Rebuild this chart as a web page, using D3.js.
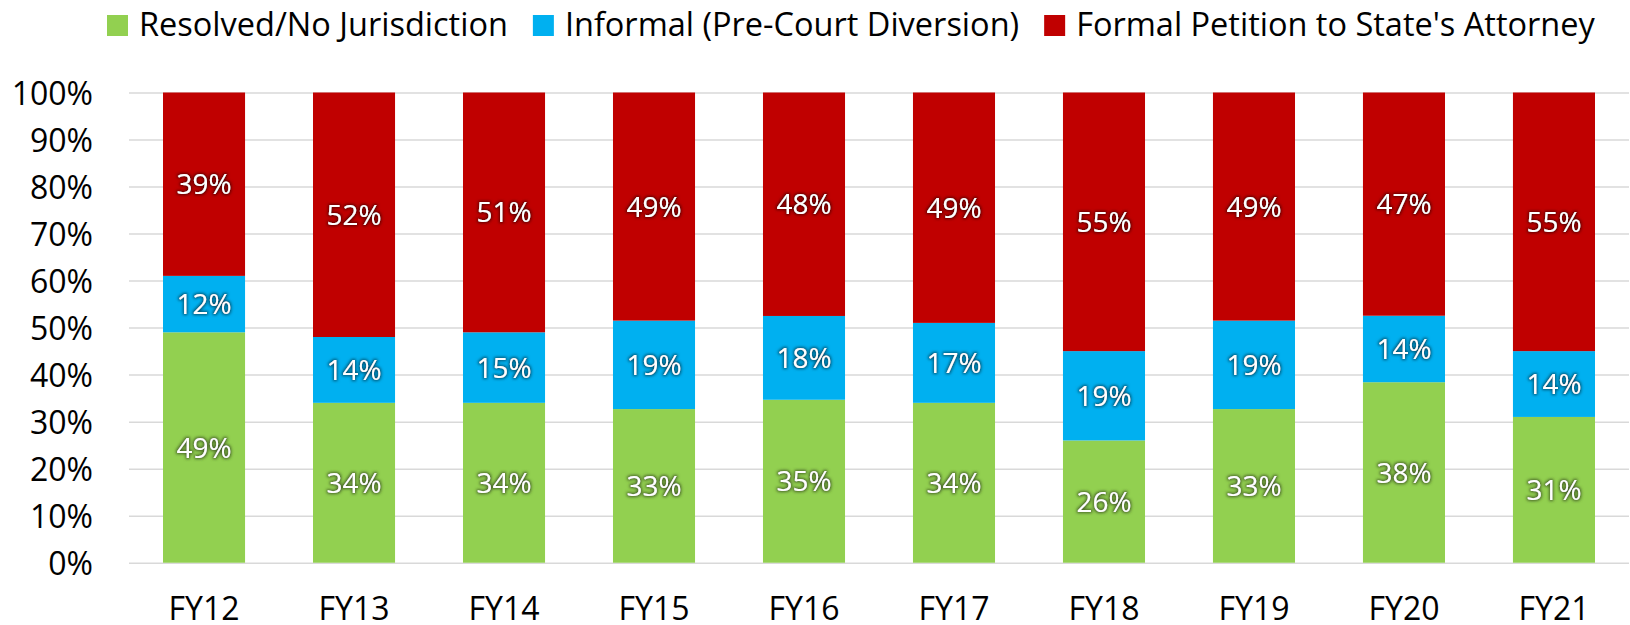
<!DOCTYPE html>
<html>
<head>
<meta charset="utf-8">
<script src="https://cdn.jsdelivr.net/npm/d3@7"></script>
<style>
  body { margin: 0; background: #fff; }
  text { font-family: "Open Sans", Lato, sans-serif; }
</style>
</head>
<body>
<svg id="chart" width="1630" height="625"></svg>
<script>
// values (percent of cases per fiscal year)
var years = ['FY12', 'FY13', 'FY14', 'FY15', 'FY16', 'FY17', 'FY18', 'FY19', 'FY20', 'FY21'];
var resolved = [49, 34, 34, 33, 35, 34, 26, 33, 38, 31];
var informal = [12, 14, 15, 19, 18, 17, 19, 19, 14, 14];
var formal = [39, 52, 51, 49, 48, 49, 55, 49, 47, 55];

var seriesKeys = ['resolved', 'informal', 'formal'];
var seriesNames = ['Resolved/No Jurisdiction', 'Informal (Pre-Court Diversion)', 'Formal Petition to State\'s Attorney'];
var seriesColors = ['#92d050', '#00b0f0', '#c00000'];
var yTickValues = [0, 0.1, 0.2, 0.3, 0.4, 0.5, 0.6, 0.7, 0.8, 0.9, 1];

var svg = d3.select('#chart');
var plotLeft = 129;
var plotRight = 1629;
var plotTop = 92.5;
var plotBottom = 562.7;

var rows = years.map(function(yr, i) {
    return {year: yr, resolved: resolved[i], informal: informal[i], formal: formal[i]};
});

var stacked = d3.stack()
    .keys(seriesKeys)
    .offset(d3.stackOffsetExpand)(rows);

var x = d3.scaleBand()
    .domain(years)
    .range([plotLeft, plotRight])
    .paddingInner(0.453)
    .paddingOuter(0.2267);

var y = d3.scaleLinear()
    .domain([0, 1])
    .range([plotBottom, plotTop]);

// glow behind the white data labels, one per series
var defs = svg.append('defs');
seriesColors.forEach(function(c, i) {
    var f = defs.append('filter')
        .attr('id', 'glow' + i)
        .attr('x', '-20%').attr('y', '-30%')
        .attr('width', '140%').attr('height', '160%');
    f.append('feMorphology').attr('in', 'SourceAlpha')
        .attr('operator', 'dilate').attr('radius', 1.2).attr('result', 'd');
    f.append('feGaussianBlur').attr('in', 'd')
        .attr('stdDeviation', 1.5).attr('result', 'b');
    f.append('feFlood').attr('flood-color', d3.color(c).darker(2).formatHex())
        .attr('flood-opacity', 1);
    f.append('feComposite').attr('in2', 'b').attr('operator', 'in').attr('result', 'g');
    var m = f.append('feMerge');
    m.append('feMergeNode').attr('in', 'g');
    m.append('feMergeNode').attr('in', 'SourceGraphic');
});

// gridlines + y labels
var yAxis = svg.append('g')
    .attr('transform', 'translate(' + plotLeft + ',0)')
    .call(d3.axisLeft(y)
        .tickValues(yTickValues)
        .tickFormat(d3.format('.0%'))
        .tickSize(-(plotRight - plotLeft))
        .tickPadding(36));
yAxis.select('.domain').remove();
yAxis.selectAll('line').attr('stroke', '#d9d9d9').attr('stroke-width', 1.5);
yAxis.selectAll('text')
    .attr('fill', '#000')
    .attr('font-size', 32)
    .attr('dy', '0.36em');

// bars
var layers = svg.selectAll('g.layer')
    .data(stacked)
    .enter().append('g')
    .attr('class', 'layer')
    .attr('fill', function(d, i) { return seriesColors[i]; });

layers.selectAll('rect')
    .data(function(d) { return d; })
    .enter().append('rect')
    .attr('x', function(d) { return x(d.data.year); })
    .attr('width', x.bandwidth())
    .attr('y', function(d) { return y(d[1]); })
    .attr('height', function(d) { return y(d[0]) - y(d[1]); });

// data labels
layers.each(function(layer, i) {
    d3.select(this).selectAll('text')
        .data(layer)
        .enter().append('text')
        .attr('x', function(d) { return x(d.data.year) + x.bandwidth() / 2; })
        .attr('y', function(d) { return y((d[0] + d[1]) / 2); })
        .attr('dy', '0.36em')
        .attr('text-anchor', 'middle')
        .attr('font-size', 28)
        .attr('fill', '#fff')
        .attr('filter', 'url(#glow' + i + ')')
        .text(function(d) { return d.data[layer.key] + '%'; });
});

// x labels
var xAxis = svg.append('g')
    .attr('transform', 'translate(0,' + plotBottom + ')')
    .call(d3.axisBottom(x).tickSize(0).tickPadding(35));
xAxis.select('.domain').remove();
xAxis.selectAll('text')
    .attr('fill', '#000')
    .attr('font-size', 32);

// legend
var legend = svg.append('g').attr('class', 'legend');
var lx = 107;
seriesNames.forEach(function(name, i) {
    var item = legend.append('g').attr('transform', 'translate(' + lx + ',0)');
    item.append('rect')
        .attr('x', 0).attr('y', 15)
        .attr('width', 21).attr('height', 21)
        .attr('fill', seriesColors[i]);
    var t = item.append('text')
        .attr('x', 32).attr('y', 35.7)
        .attr('font-size', 32.5)
        .attr('fill', '#000')
        .text(name);
    lx += 32 + t.node().getComputedTextLength() + 25;
});
</script>
</body>
</html>
